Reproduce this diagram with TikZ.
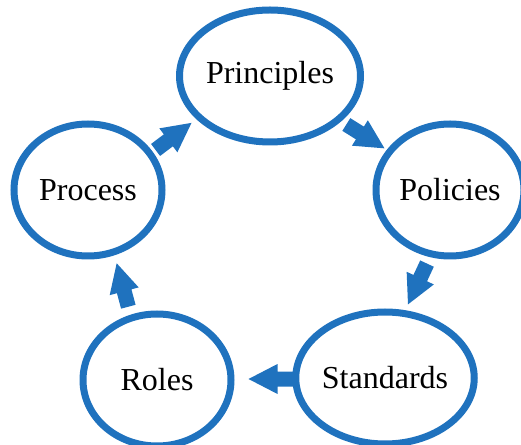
\documentclass[tikz,border=0pt]{standalone}
\usepackage{fontspec}
\setmainfont{Liberation Serif}
\usetikzlibrary{shapes.geometric,calc}
\definecolor{ringblue}{RGB}{31,114,190}
\begin{document}
\begin{tikzpicture}[x=1pt,y=1pt,
  ring/.style={ellipse, draw=ringblue, line width=7pt, minimum width=148pt, minimum height=132pt, inner sep=0pt, font=\fontsize{32}{38}\selectfont},
  pics/flowarrow/.style={code={\fill[ringblue] (-22.5,-7.5) -- (-6.5,-7.5) -- (-6.5,-15) -- (22.5,0) -- (-6.5,15) -- (-6.5,7.5) -- (-22.5,7.5) -- cycle;}}]
\useasboundingbox (0,0) rectangle (521,444);
\clip (0,0) rectangle (521,444);
\node[ring] (pri) at (270,368) {Principles};
\node[ring] (pol) at (450,254) {Policies};
\node[ring] (sta) at (385,66) {Standards};
\node[ring] (rol) at (157,64) {Roles};
\node[ring] (pro) at (88,254) {Process};
\pic[rotate=37] at ($(pro)!0.47!(pri)$) {flowarrow};
\pic[rotate=-32] at ($(pri)!0.53!(pol)$) {flowarrow};
\pic[rotate=245] at ($(pol)!0.5!(sta)$) {flowarrow};
\pic[rotate=180] at ($(sta)!0.5!(rol)$) {flowarrow};
\pic[rotate=105] at ($(rol)!0.5!(pro)$) {flowarrow};
\end{tikzpicture}
\end{document}
